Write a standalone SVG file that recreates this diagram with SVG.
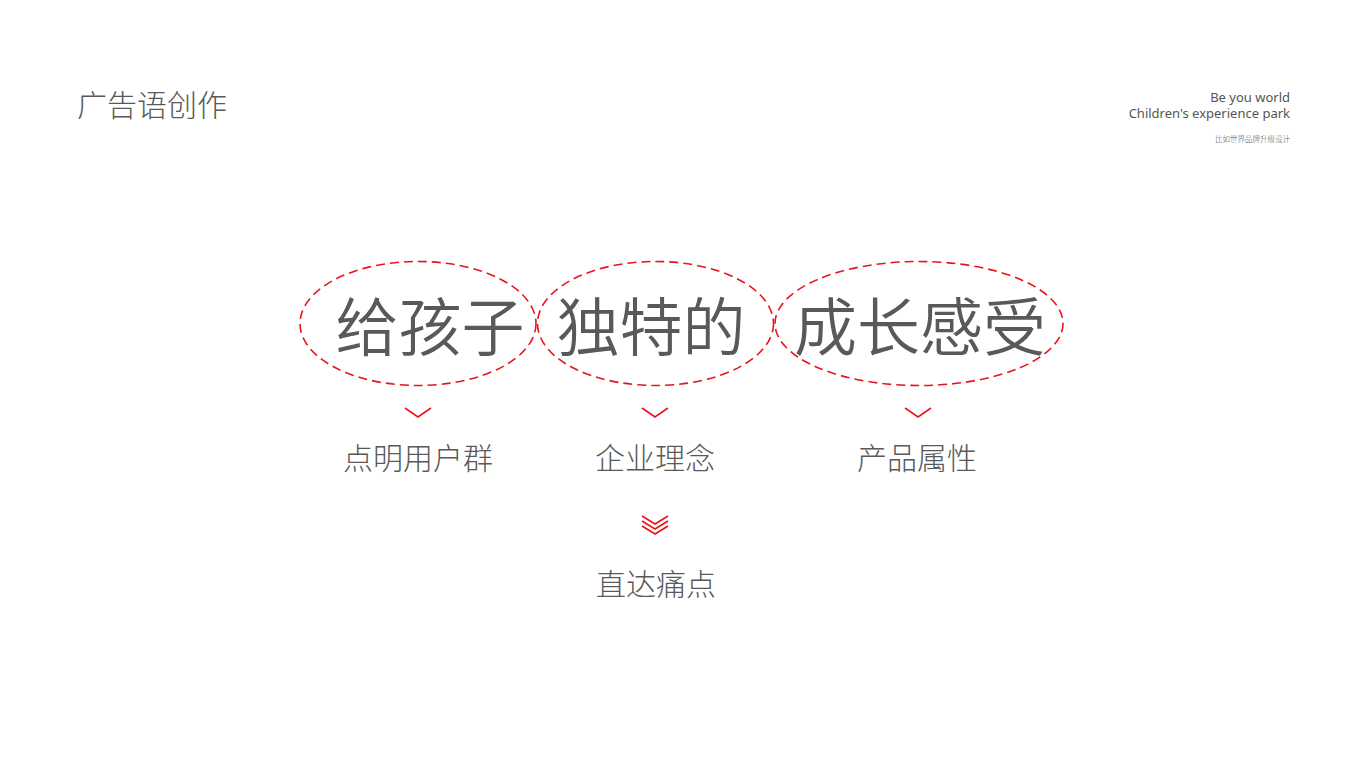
<svg xmlns="http://www.w3.org/2000/svg" width="1366" height="768" viewBox="0 0 1366 768">
<style>
.cjk{font-family:"Noto Sans CJK SC","Noto Sans",sans-serif;font-weight:300;fill:#595959}
.big{font-size:63px;text-anchor:middle;font-weight:350}
.lbl{font-size:30px;text-anchor:middle}
.en{font-family:"Noto Sans","Open Sans",sans-serif;font-size:13px;fill:#555;text-anchor:end}
.ring{fill:none;stroke:#e8141c;stroke-width:1.6;stroke-dasharray:9 5}
.chev{fill:none;stroke:#e8141c;stroke-width:1.6}
</style>
<rect width="1366" height="768" fill="#fff"/>
<text class="cjk" x="77" y="116" font-size="30">广告语创作</text>
<text class="en" x="1290" y="102">Be you world</text>
<text class="en" x="1290" y="118">Children's experience park</text>
<text class="cjk" x="1290" y="142" font-size="7.5" text-anchor="end">比如世界品牌升级设计</text>
<g id="node-1">
<ellipse class="ring" cx="418" cy="323.5" rx="118" ry="62"/>
<text class="cjk big" x="430" y="350">给孩子</text>
</g>
<g id="node-2">
<ellipse class="ring" cx="655.5" cy="323.5" rx="118" ry="62"/>
<text class="cjk big" x="651" y="350">独特的</text>
</g>
<g id="node-3">
<ellipse class="ring" cx="919" cy="323.5" rx="144" ry="62"/>
<text class="cjk big" x="920" y="350">成长感受</text>
</g>
<g id="connectors">
<polyline class="chev" points="405,408 418,417 431,408"/>
<polyline class="chev" points="642,408 655,417 668,408"/>
<polyline class="chev" points="905,408 918,417 931,408"/>
<polyline class="chev" points="642,516 655,524 668,516"/>
<polyline class="chev" points="642,521 655,529 668,521"/>
<polyline class="chev" points="642,526 655,534 668,526"/>
</g>
<g id="label-1"><text class="cjk lbl" x="418" y="469">点明用户群</text></g>
<g id="label-2"><text class="cjk lbl" x="655" y="469">企业理念</text></g>
<g id="label-3"><text class="cjk lbl" x="917" y="469">产品属性</text></g>
<g id="label-4"><text class="cjk lbl" x="656" y="595">直达痛点</text></g>
</svg>
